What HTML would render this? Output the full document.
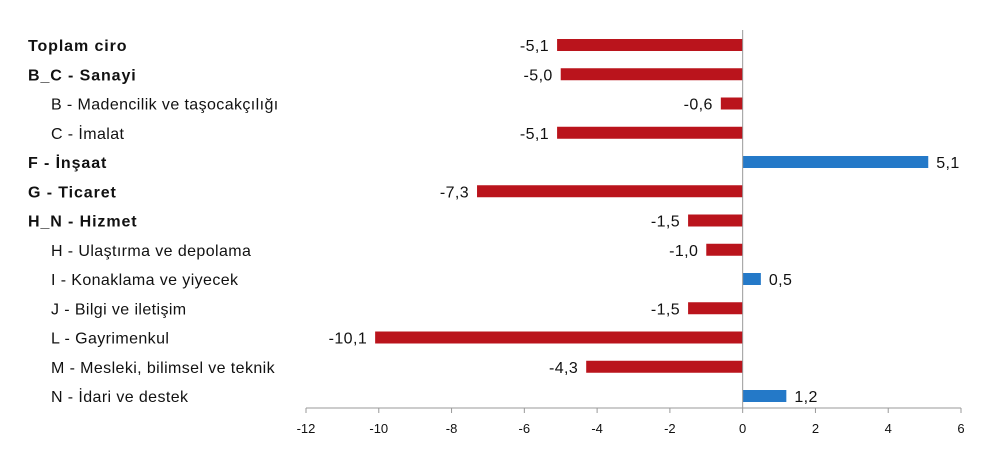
<!DOCTYPE html>
<html><head><meta charset="utf-8"><style>
body{margin:0;background:#fff;}
svg text{font-family:"Liberation Sans",Arial,sans-serif;font-size:16px;fill:#111;letter-spacing:0.4px;}
svg text.b{letter-spacing:0.9px;}
svg text.t{font-size:13px;letter-spacing:0;}
</style></head><body>
<svg id="chart" width="1000" height="459"></svg>
<script>
const categories=["Toplam ciro","B_C - Sanayi","B - Madencilik ve taşocakçılığı","C - İmalat","F - İnşaat","G - Ticaret","H_N - Hizmet","H - Ulaştırma ve depolama","I - Konaklama ve yiyecek","J - Bilgi ve iletişim","L - Gayrimenkul","M - Mesleki, bilimsel ve teknik","N - İdari ve destek"];
const values=[-5.1,-5.0,-0.6,-5.1,5.1,-7.3,-1.5,-1.0,0.5,-1.5,-10.1,-4.3,1.2];
const boldFlags=[1,1,0,0,1,1,1,0,0,0,0,0,0];
const tickValues=[-12,-10,-8,-6,-4,-2,0,2,4,6];
const NS="http://www.w3.org/2000/svg";
const svg=document.getElementById('chart');
const x0=306,x1=961,vmin=-12,vmax=6;
const xs=v=>x0+(v-vmin)/(vmax-vmin)*(x1-x0);
const yTop=45,yStep=29.25;
const ys=i=>yTop+i*yStep;
function mk(t,a){const e=document.createElementNS(NS,t);for(const k in a)e.setAttribute(k,a[k]);svg.appendChild(e);return e;}
const axis=mk('line',{x1:x0,x2:x1,y1:408,y2:408,stroke:'#999','stroke-width':1});


tickValues.forEach(v=>{
 const t=mk('line',{x1:xs(v),x2:xs(v),y1:408,y2:413,stroke:'#999'});
 
 
 const l=mk('text',{x:xs(v),y:433,'text-anchor':'middle','class':'t'});
 l.textContent=String(v);
 
 
});
categories.forEach((c,i)=>{
 const v=values[i],y=ys(i);
 const xa=xs(0),xb=xs(v);
 const r=mk('rect',{x:Math.min(xa,xb),y:y-6,width:Math.abs(xb-xa),height:12,fill:v<0?'#BA141C':'#2479C8'});
 
 
 const vl=mk('text',{x:v<0?xb-8:xb+8,y:y+6,'text-anchor':v<0?'end':'start'});
 vl.textContent=v.toFixed(1).replace('.',',');
 
 
 const cl=mk('text',{x:boldFlags[i]?28:51,y:y+6,'font-weight':boldFlags[i]?'bold':'normal','class':boldFlags[i]?'b':''});
 cl.textContent=c;
 
 
});
const zl=mk('line',{x1:xs(0),x2:xs(0),y1:30,y2:408,stroke:'#999'});


</script>
</body></html>
